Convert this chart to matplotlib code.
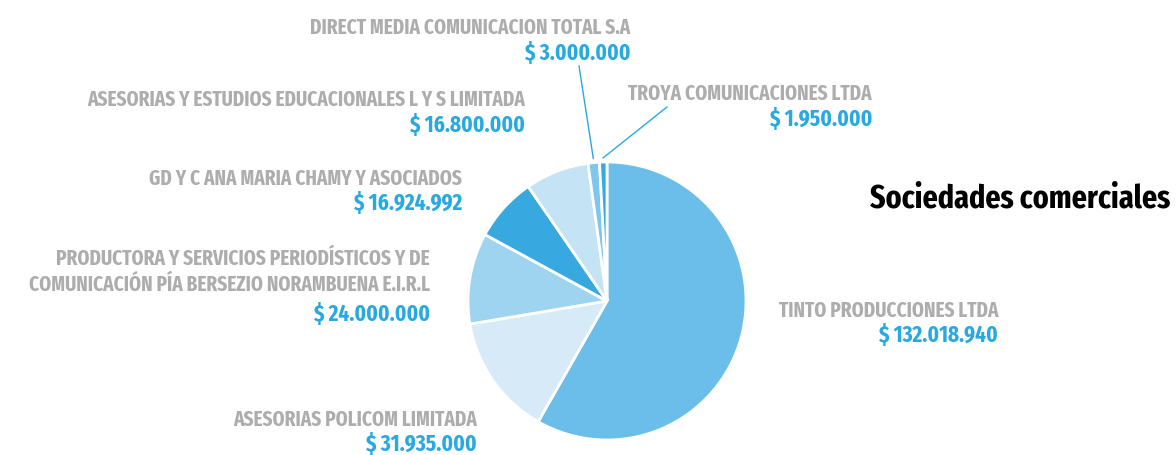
import numpy as np
import matplotlib.pyplot as plt

# datos
names = ["TINTO PRODUCCIONES LTDA",
         "ASESORIAS POLICOM LIMITADA",
         "PRODUCTORA Y SERVICIOS PERIODÍSTICOS Y DE\nCOMUNICACIÓN PÍA BERSEZIO NORAMBUENA E.I.R.L",
         "GD Y C ANA MARIA CHAMY Y ASOCIADOS",
         "ASESORIAS Y ESTUDIOS EDUCACIONALES L Y S LIMITADA",
         "DIRECT MEDIA COMUNICACION TOTAL S.A",
         "TROYA COMUNICACIONES LTDA"]
values = [132018940, 31935000, 24000000, 16924992, 16800000, 3000000, 1950000]
value_labels = ["$ 132.018.940", "$ 31.935.000", "$ 24.000.000", "$ 16.924.992",
                "$ 16.800.000", "$ 3.000.000", "$ 1.950.000"]
colors = ["#6bbee9", "#d6ebf7", "#9fd4f1", "#38a9e0", "#c4e4f6", "#7fc6ed", "#38a9e0"]
title = "Sociedades comerciales"

# posiciones de etiquetas (x derecha, linea base del nombre, linea base del valor) en pixeles
label_pos = [(998, 317, 342), (477, 426, 451), (430, 291, 321), (462, 185, 210),
             (525, 106, 132), (630, 34, 60), (872, 100, 126)]
# lineas guia: (indice, punto final en pixeles)
leaders = {5: (579, 67), 6: (667, 108)}

W, H = 1176, 456
fam = ['Fira Sans Extra Condensed', 'DejaVu Sans']

fig = plt.figure(figsize=(W / 100, H / 100), dpi=100)
ax = fig.add_axes([0, 0, 1, 1])

cx, cy, r = 607, H - 302, 139
wedges, _ = ax.pie(values, colors=colors, startangle=90, counterclock=False,
                   center=(cx, cy), radius=r,
                   wedgeprops=dict(edgecolor='white', linewidth=2))
ax.set_xlim(0, W)
ax.set_ylim(0, H)
ax.set_aspect('equal')
ax.axis('off')

gray = "#adadad"
blue = "#29a9e1"
for i, (x, yn, yv) in enumerate(label_pos):
    ax.text(x, H - yn, names[i], ha='right', va='baseline', color=gray,
            fontsize=15, fontweight='bold', family=fam, linespacing=1.3)
    ax.text(x, H - yv, value_labels[i], ha='right', va='baseline', color=blue,
            fontsize=16.5, fontweight='bold', family=fam)

for i, (ex, ey) in leaders.items():
    w = wedges[i]
    ang = np.deg2rad((w.theta1 + w.theta2) / 2)
    x0 = cx + r * 1.03 * np.cos(ang)
    y0 = cy + r * 1.03 * np.sin(ang)
    ax.plot([x0, ex], [y0, H - ey], color=blue, lw=1)

ax.text(1170, H - 207, title, ha='right', va='baseline', color='black',
        fontsize=23.5, fontweight='bold', family=fam)

fig.savefig('out.png', dpi=100)
